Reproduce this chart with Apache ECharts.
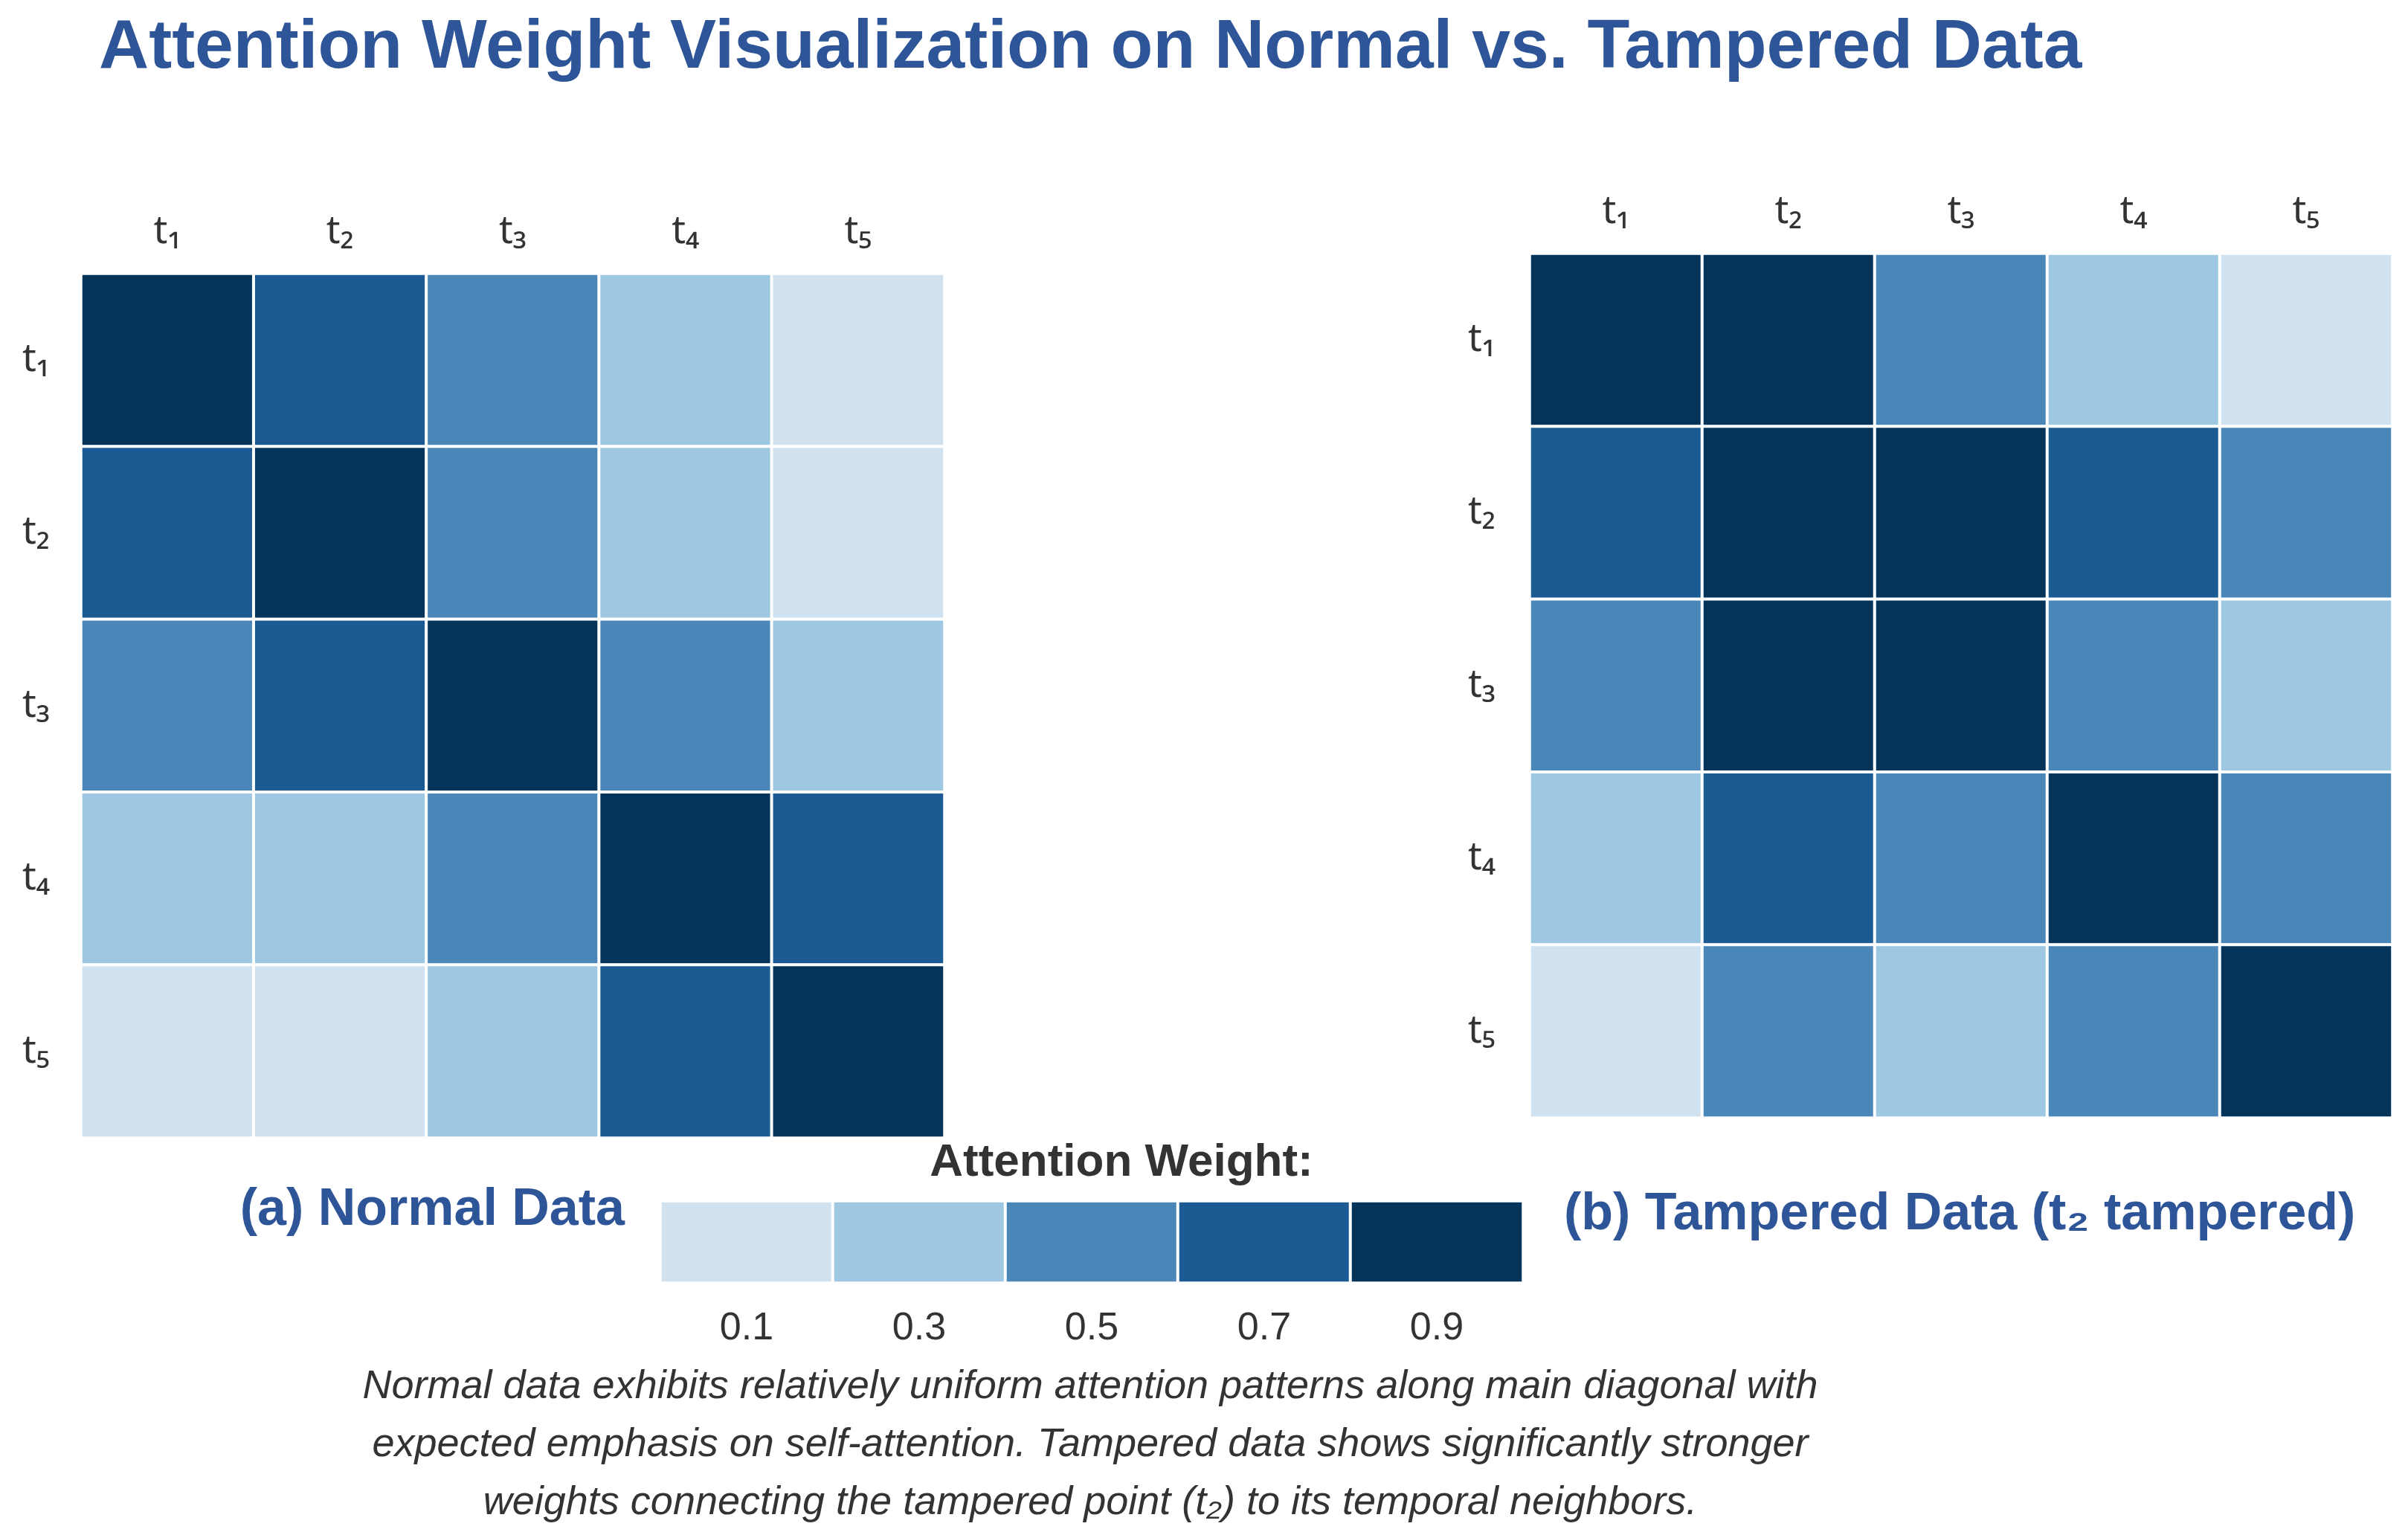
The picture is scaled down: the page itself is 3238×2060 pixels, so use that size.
<!DOCTYPE html>
<html><head><meta charset="utf-8">
<script src="https://cdn.jsdelivr.net/npm/echarts@6/dist/echarts.min.js"></script>
<style>html,body{margin:0;padding:0;background:#fff}#c{width:3238px;height:2060px}</style>
</head><body><div id="c"></div>
<script>
const steps = ['t₁','t₂','t₃','t₄','t₅'];
const normalData = [
  [0.9, 0.7, 0.5, 0.3, 0.1],
  [0.7, 0.9, 0.5, 0.3, 0.1],
  [0.5, 0.7, 0.9, 0.5, 0.3],
  [0.3, 0.3, 0.5, 0.9, 0.7],
  [0.1, 0.1, 0.3, 0.7, 0.9]
];
const tamperedData = [
  [0.9, 0.9, 0.5, 0.3, 0.1],
  [0.7, 0.9, 0.9, 0.7, 0.5],
  [0.5, 0.9, 0.9, 0.5, 0.3],
  [0.3, 0.7, 0.5, 0.9, 0.5],
  [0.1, 0.5, 0.3, 0.5, 0.9]
];
const legendLevels = [0.1, 0.3, 0.5, 0.7, 0.9];
const legendLabels = ['0.1','0.3','0.5','0.7','0.9'];
const levelColors = ['#d0e2ef','#9ec7e1','#4a86b8','#1c5a94','#04345a'];

function toCells(m){ const out=[]; m.forEach((row,r)=>row.forEach((v,c)=>out.push([c,r,v]))); return out; }

const chart = echarts.init(document.getElementById('c'));
const TXT = '#333333';
const BLUE = '#2E5597';
const tickFont = {fontFamily:'Noto Sans', fontSize:52, color:TXT};
const cellStyle = {borderColor:'#ffffff', borderWidth:4};

chart.setOption({
  backgroundColor:'#ffffff',
  animation:false,
  title:[
    {text:'Attention Weight Visualization on Normal vs. Tampered Data', left:128, top:14,
     textStyle:{fontFamily:'Liberation Sans', fontWeight:'bold', fontSize:93, color:BLUE}},
    {text:'Attention Weight:', left:1503, top:1528, textAlign:'center',
     textStyle:{fontFamily:'Liberation Sans', fontWeight:'bold', fontSize:62, color:TXT}},
    {text:'(a) Normal Data', right:3238-845, top:1588,
     textStyle:{fontFamily:'Liberation Sans', fontWeight:'bold', fontSize:70, color:BLUE}},
    {text:'(b) Tampered Data (t₂ tampered)', left:2098, top:1594,
     textStyle:{fontFamily:'Liberation Sans', fontWeight:'bold', fontSize:70, color:BLUE}}
  ],
  graphic:[
    {type:'text', x:1466, y:1826, style:{
      text:'Normal data exhibits relatively uniform attention patterns along main diagonal with\nexpected emphasis on self-attention. Tampered data shows significantly stronger\nweights connecting the tampered point (t₂) to its temporal neighbors.',
      font:'italic 54px "Liberation Sans"', fill:TXT, align:'center', textAlign:'center', lineHeight:78}}
  ],
  grid:[
    {left:109, top:368, width:1161, height:1162},
    {left:2057, top:341, width:1160, height:1162},
    {left:888, top:1615, width:1160, height:110}
  ],
  xAxis:[
    {type:'category', gridIndex:0, position:'top', data:steps, axisLine:{show:false}, axisTick:{show:false}, axisLabel:Object.assign({margin:30},tickFont), splitLine:{show:false}},
    {type:'category', gridIndex:1, position:'top', data:steps, axisLine:{show:false}, axisTick:{show:false}, axisLabel:Object.assign({margin:30},tickFont), splitLine:{show:false}},
    {type:'category', gridIndex:2, position:'bottom', data:legendLabels, axisLine:{show:false}, axisTick:{show:false}, axisLabel:{fontFamily:'Liberation Sans', fontSize:52, color:TXT, margin:36}, splitLine:{show:false}}
  ],
  yAxis:[
    {type:'category', gridIndex:0, inverse:true, data:steps, axisLine:{show:false}, axisTick:{show:false}, axisLabel:Object.assign({margin:42},tickFont), splitLine:{show:false}},
    {type:'category', gridIndex:1, inverse:true, data:steps, axisLine:{show:false}, axisTick:{show:false}, axisLabel:Object.assign({margin:46},tickFont), splitLine:{show:false}},
    {type:'category', gridIndex:2, data:['w'], axisLine:{show:false}, axisTick:{show:false}, axisLabel:{show:false}, splitLine:{show:false}}
  ],
  visualMap:{
    type:'piecewise', show:false, seriesIndex:[0,1,2], dimension:2,
    pieces:legendLevels.map((v,i)=>({min:v-0.1, max:v+0.1, color:levelColors[i]}))
  },
  series:[
    {type:'heatmap', xAxisIndex:0, yAxisIndex:0, data:toCells(normalData), itemStyle:cellStyle},
    {type:'heatmap', xAxisIndex:1, yAxisIndex:1, data:toCells(tamperedData), itemStyle:cellStyle},
    {type:'heatmap', xAxisIndex:2, yAxisIndex:2, data:legendLevels.map((v,i)=>[i,0,v]), itemStyle:cellStyle}
  ]
});
</script></body></html>
